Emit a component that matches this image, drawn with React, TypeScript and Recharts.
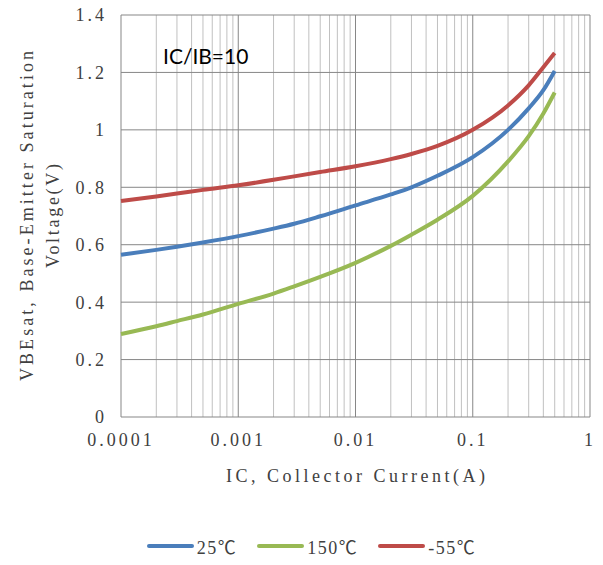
import React from 'react';
import { LineChart, Line, XAxis, YAxis, CartesianGrid, Legend } from 'recharts';

// collector current (A) and VBE(sat) readings per temperature
const currents = [0.0001, 0.0002, 0.0003, 0.0005, 0.001, 0.002, 0.003, 0.005, 0.01, 0.02, 0.03, 0.05, 0.1, 0.2, 0.3, 0.4, 0.5];
const vbe25 = [0.565, 0.582, 0.593, 0.608, 0.63, 0.656, 0.673, 0.699, 0.737, 0.775, 0.8, 0.84, 0.905, 1.0, 1.075, 1.138, 1.205];
const vbe150 = [0.289, 0.316, 0.334, 0.357, 0.394, 0.43, 0.455, 0.488, 0.537, 0.596, 0.635, 0.687, 0.77, 0.89, 0.978, 1.057, 1.13];
const vbeMinus55 = [0.752, 0.768, 0.778, 0.791, 0.807, 0.826, 0.838, 0.853, 0.873, 0.898, 0.916, 0.944, 1.0, 1.085, 1.155, 1.218, 1.268];

const xTicks = [0.0001, 0.001, 0.01, 0.1, 1];
const xTickLabels = ['0.0001', '0.001', '0.01', '0.1', '1'];
const xMinorTicks = [
  0.0002, 0.0003, 0.0004, 0.0005, 0.0006, 0.0007, 0.0008, 0.0009,
  0.002, 0.003, 0.004, 0.005, 0.006, 0.007, 0.008, 0.009,
  0.02, 0.03, 0.04, 0.05, 0.06, 0.07, 0.08, 0.09,
  0.2, 0.3, 0.4, 0.5, 0.6, 0.7, 0.8, 0.9,
];
const yTicks = [0, 0.2, 0.4, 0.6, 0.8, 1, 1.2, 1.4];
const yTickLabels = ['0', '0.2', '0.4', '0.6', '0.8', '1', '1.2', '1.4'];

const series = [
  { key: 't25', name: '25℃', color: '#4A7EBB', values: vbe25 },
  { key: 't150', name: '150℃', color: '#98B954', values: vbe150 },
  { key: 'tm55', name: '-55℃', color: '#BE4B48', values: vbeMinus55 },
];

const data = currents.map((ic, i) => {
  const row: any = { ic };
  series.forEach(s => { row[s.key] = s.values[i]; });
  return row;
});

const SERIF = '"Liberation Serif", "Noto Sans CJK SC", serif';
const TEXT = '#404040';

const fmtX = (v: number) => {
  const i = xTicks.indexOf(v);
  return i >= 0 ? xTickLabels[i] : '';
};
const fmtY = (v: number) => {
  const i = yTicks.findIndex(t => Math.abs(t - v) < 1e-9);
  return i >= 0 ? yTickLabels[i] : String(v);
};

const YTitle = ({ viewBox }: any) => {
  const cy = viewBox.y + viewBox.height / 2;
  return (
    <g fill={TEXT} fontFamily={SERIF} fontSize={18}>
      <text transform={`translate(27,${cy}) rotate(-90)`} textAnchor="middle" dy="0.35em" textLength={330} lengthAdjust="spacing">
        VBEsat, Base-Emitter Saturation
      </text>
      <text transform={`translate(53,${cy}) rotate(-90)`} textAnchor="middle" dy="0.35em" textLength={104} lengthAdjust="spacing">
        Voltage(V)
      </text>
    </g>
  );
};

const XTitle = ({ viewBox }: any) => (
  <text
    x={viewBox.x + viewBox.width / 2}
    y={viewBox.y + 65}
    fill={TEXT}
    fontFamily={SERIF}
    fontSize={18}
    textAnchor="middle"
    textLength={259}
    lengthAdjust="spacing"
  >
    IC, Collector Current(A)
  </text>
);

const LegendContent = ({ payload }: any) => {
  const items = series.map(s => (payload || []).find((p: any) => p.dataKey === s.key)).filter(Boolean);
  return (
    <div style={{ display: 'flex', justifyContent: 'center', alignItems: 'center', fontFamily: SERIF, fontSize: 18, color: TEXT, letterSpacing: 1.5, paddingLeft: 20 }}>
      {items.map((p: any) => (
        <div key={p.value} style={{ display: 'flex', alignItems: 'center', margin: '0 10px' }}>
          <svg width={47} height={8}>
            <line x1={2} y1={4} x2={45} y2={4} stroke={p.color} strokeWidth={4} strokeLinecap="round" />
          </svg>
          <span style={{ marginLeft: 3 }}>{p.value}</span>
        </div>
      ))}
    </div>
  );
};

export default function App() {
  return (
    <div style={{ position: 'absolute', left: 0, top: 0, width: 603, height: 565, background: '#fff' }}>
      <LineChart width={603} height={565} data={data} margin={{ top: 15, right: 13, left: 0, bottom: 73 }}>
        <CartesianGrid horizontal={false} verticalValues={xMinorTicks} stroke="#c0c0c0" strokeWidth={1} />
        <CartesianGrid verticalValues={xTicks} horizontalValues={yTicks} stroke="#878787" strokeWidth={1} />
        <XAxis
          dataKey="ic"
          type="number"
          scale="log"
          domain={[0.0001, 1]}
          ticks={xTicks}
          interval={0}
          tickFormatter={fmtX}
          axisLine={false}
          tickLine={false}
          tickSize={6}
          tickMargin={10}
          height={75}
          tick={{ fill: TEXT, fontSize: 18, fontFamily: SERIF, letterSpacing: 3 }}
          label={{ content: <XTitle /> }}
        />
        <YAxis
          type="number"
          domain={[0, 1.4]}
          ticks={yTicks}
          interval={0}
          tickFormatter={fmtY}
          axisLine={false}
          tickLine={false}
          tickSize={6}
          tickMargin={8}
          width={121}
          tick={{ fill: TEXT, fontSize: 18, fontFamily: SERIF, letterSpacing: 3 }}
          label={{ content: <YTitle /> }}
        />
        <Legend
          verticalAlign="middle"
          align="center"
          layout="horizontal"
          wrapperStyle={{ top: 533, left: 0, width: 603 }}
          content={<LegendContent />}
        />
        {series.map(s => (
          <Line
            key={s.key}
            dataKey={s.key}
            name={s.name}
            type="monotone"
            stroke={s.color}
            strokeWidth={4}
            dot={false}
            isAnimationActive={false}
          />
        ))}
      </LineChart>
      <div style={{ position: 'absolute', left: 163, top: 44, fontFamily: 'Lato, "Open Sans", sans-serif', fontSize: 21, lineHeight: '24px', color: '#000' }}>
        IC/IB=10
      </div>
    </div>
  );
}
